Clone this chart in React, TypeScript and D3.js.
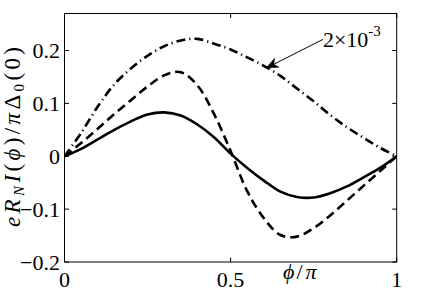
import React from "react";
import * as d3 from "d3";

const phi = [0, 0.05, 0.1, 0.15, 0.2, 0.25, 0.3, 0.35, 0.4, 0.45, 0.5, 0.55, 0.6, 0.65, 0.7, 0.75, 0.8, 0.85, 0.9, 0.95, 1];
const solidVals = [0, 0.014, 0.032, 0.05, 0.066, 0.079, 0.083, 0.077, 0.06, 0.036, 0.005, -0.022, -0.046, -0.067, -0.077, -0.078, -0.07, -0.057, -0.04, -0.022, 0];
const dashedVals = [0, 0.025, 0.052, 0.08, 0.106, 0.132, 0.153, 0.159, 0.134, 0.08, 0.01, -0.066, -0.117, -0.149, -0.152, -0.136, -0.112, -0.084, -0.056, -0.028, 0];
const dashDotVals = [0, 0.044, 0.094, 0.136, 0.166, 0.19, 0.208, 0.219, 0.222, 0.213, 0.202, 0.187, 0.171, 0.152, 0.128, 0.104, 0.078, 0.055, 0.035, 0.016, 0];

const xTicks = [0, 0.5, 1];
const xTickLabels = ["0", "0.5", "1"];
const yTicks = [-0.2, -0.1, 0, 0.1, 0.2];
const yTickLabels = ["\u22120.2", "\u22120.1", "0", "0.1", "0.2"];

const annotationBase = "2\u00d710";
const annotationExp = "-3";
const annotationTip = { x: 0.607, y: 0.1667 };
const annotationStart = { x: 0.778, y: 0.221 };

const W = 431;
const H = 293;
const left = 64.5;
const right = 396.7;
const top = 13.5;
const bottom = 262;

const FONT = "'Liberation Serif', 'Times New Roman', serif";

export default function App() {
  const x = d3.scaleLinear().domain([0, 1]).range([left, right]);
  const y = d3.scaleLinear().domain([-0.2, 0.27]).range([bottom, top]);

  const line = (vals: number[]) =>
    d3
      .line<number>()
      .x((_, i) => x(phi[i]))
      .y((d) => y(d))
      .curve(d3.curveCatmullRom.alpha(0.5))(vals) || "";

  const tx = x(annotationTip.x);
  const ty = y(annotationTip.y);
  const sx = x(annotationStart.x);
  const sy = y(annotationStart.y);
  const dx = tx - sx;
  const dy = ty - sy;
  const len = Math.hypot(dx, dy);
  const ux = dx / len;
  const uy = dy / len;
  const nx = -uy;
  const ny = ux;
  const L = 12;
  const w = 5;
  const notch = 3.5;
  const head = `M${tx},${ty} L${tx - ux * L + nx * w},${ty - uy * L + ny * w} L${tx - ux * (L - notch)},${ty - uy * (L - notch)} L${tx - ux * L - nx * w},${ty - uy * L - ny * w} Z`;

  const tickLen = 4.5;

  return (
    <svg width={W} height={H} style={{ position: "absolute", left: 0, top: 0, background: "#fff" }}>
      <rect x={0} y={0} width={W} height={H} fill="#fff" />
      <defs>
        <clipPath id="plotclip">
          <rect x={left} y={top} width={right - left} height={bottom - top} />
        </clipPath>
      </defs>
      {yTicks.map((t) => (
        <g key={"yt" + t}>
          <line x1={left} x2={left + tickLen} y1={y(t)} y2={y(t)} stroke="#000" strokeWidth={1} />
          <line x1={right} x2={right - tickLen} y1={y(t)} y2={y(t)} stroke="#000" strokeWidth={1} />
        </g>
      ))}
      {xTicks.map((t) => (
        <g key={"xt" + t}>
          <line x1={x(t)} x2={x(t)} y1={bottom} y2={bottom - tickLen} stroke="#000" strokeWidth={1} />
          <line x1={x(t)} x2={x(t)} y1={top} y2={top + tickLen} stroke="#000" strokeWidth={1} />
        </g>
      ))}
      <g clipPath="url(#plotclip)" fill="none" stroke="#000">
        <path d={line(solidVals)} strokeWidth={2.6} />
        <path d={line(dashedVals)} strokeWidth={2.6} strokeDasharray="9,5" />
        <path d={line(dashDotVals)} strokeWidth={2.6} strokeDasharray="9,4,1.2,4" />
      </g>
      <rect x={left} y={top} width={right - left} height={bottom - top} fill="none" stroke="#000" strokeWidth={1} />
      {yTicks.map((t, i) => (
        <text key={"yl" + t} x={60} y={y(t) + 7.5} textAnchor="end" fontFamily={FONT} fontSize={22} fill="#000">
          {yTickLabels[i]}
        </text>
      ))}
      {xTicks.map((t, i) => (
        <text key={"xl" + t} x={x(t)} y={286.5} textAnchor="middle" fontFamily={FONT} fontSize={22} fill="#000">
          {xTickLabels[i]}
        </text>
      ))}
      <text x={283} y={279} fontFamily={FONT} fontSize={22} fill="#000">
        <tspan fontStyle="italic">ϕ</tspan>
        <tspan dx={2}>/</tspan>
        <tspan dx={3} fontStyle="italic">π</tspan>
      </text>
      <text
        transform="translate(20,137) rotate(-90)"
        textAnchor="middle"
        fontFamily={FONT}
        fontSize={23}
        fill="#000"
        textLength={180}
        lengthAdjust="spacing"
      >
        <tspan fontStyle="italic">eR</tspan>
        <tspan fontStyle="italic" fontSize={15} dy={4}>N</tspan>
        <tspan fontStyle="italic" dy={-4}>I</tspan>
        <tspan>(</tspan>
        <tspan fontStyle="italic">ϕ</tspan>
        <tspan>)/</tspan>
        <tspan fontStyle="italic">π</tspan>
        <tspan>Δ</tspan>
        <tspan fontSize={15} dy={4}>0</tspan>
        <tspan dy={-4}>(0)</tspan>
      </text>
      <line x1={sx} y1={sy} x2={tx - ux * (L - notch)} y2={ty - uy * (L - notch)} stroke="#000" strokeWidth={1} />
      <path d={head} fill="#000" stroke="#000" strokeWidth={0.5} />
      <text x={sx} y={47} fontFamily={FONT} fontSize={22} fill="#000">
        {annotationBase}
        <tspan fontSize={15} dy={-11}>{annotationExp}</tspan>
      </text>
    </svg>
  );
}
